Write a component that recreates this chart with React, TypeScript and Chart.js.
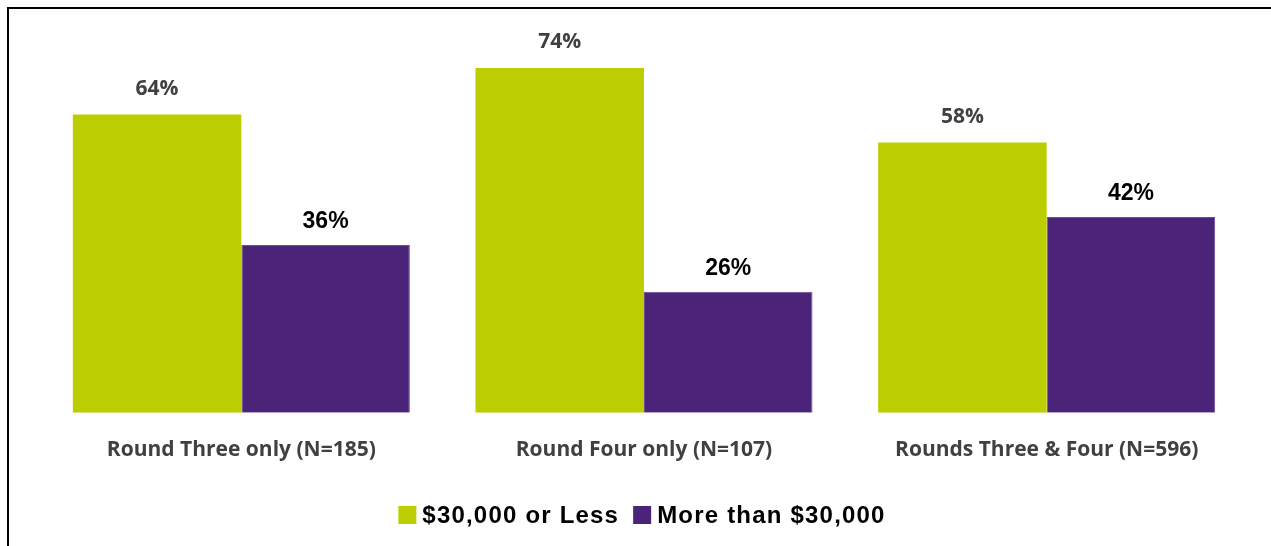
import React, { useEffect, useRef } from "react";
import { Chart, registerables } from "chart.js";

Chart.register(...registerables);

const categories = ["Round Three only (N=185)", "Round Four only (N=107)", "Rounds Three & Four (N=596)"];
const seriesNames = ["$30,000 or Less", "More than $30,000"];
const lowIncome = [64, 74, 58];
const highIncome = [36, 26, 42];
const colors = ["#BCCD02", "#4B2378"];

const valueLabelPlugin = {
  id: "valueLabels",
  afterDatasetsDraw(chart: any) {
    const ctx = chart.ctx;
    ctx.save();
    ctx.textAlign = "center";
    ctx.textBaseline = "alphabetic";
    chart.data.datasets.forEach((ds: any, di: number) => {
      const meta = chart.getDatasetMeta(di);
      let offset = 18;
      if (di === 0) {
        ctx.font = "bold 21px 'Open Sans'";
        ctx.fillStyle = "#404040";
        offset = 20;
      } else {
        ctx.font = "bold 23px 'Liberation Sans'";
        ctx.fillStyle = "#000000";
        offset = 17;
      }
      meta.data.forEach((bar: any, i: number) => {
        ctx.fillText(ds.data[i] + "%", bar.x, bar.y - offset);
      });
    });
    ctx.restore();
  },
};

const legendPlugin = {
  id: "customLegend",
  afterDraw(chart: any) {
    const ctx = chart.ctx;
    ctx.save();
    ctx.font = "bold 24px 'Liberation Sans'";
    (ctx as any).letterSpacing = "1.2px";
    ctx.textBaseline = "middle";
    ctx.textAlign = "left";
    const box = 18;
    const gapBoxText = 6;
    const gapItems = 14;
    const widths = seriesNames.map((n) => ctx.measureText(n).width);
    const total = widths.reduce((a, w) => a + box + gapBoxText + w, 0) + gapItems;
    let x = chart.width / 2 - total / 2 + 2;
    const y = chart.height - 31;
    seriesNames.forEach((n, i) => {
      ctx.fillStyle = colors[i];
      ctx.fillRect(x, y - box / 2, box, box);
      x += box + gapBoxText;
      ctx.fillStyle = "#000000";
      ctx.fillText(n, x, y + 1);
      x += widths[i] + gapItems;
    });
    ctx.restore();
  },
};

export default function App() {
  const canvasRef = useRef<HTMLCanvasElement>(null);
  useEffect(() => {
    if (!canvasRef.current) return;
    const chart = new Chart(canvasRef.current, {
      type: "bar",
      data: {
        labels: categories,
        datasets: [
          { label: seriesNames[0], data: lowIncome, backgroundColor: colors[0], borderWidth: 0 },
          { label: seriesNames[1], data: highIncome, backgroundColor: colors[1], borderColor: "#6B4E96", borderWidth: 1 },
        ],
      },
      options: {
        animation: false,
        responsive: false,
        maintainAspectRatio: false,
        datasets: { bar: { categoryPercentage: 0.837, barPercentage: 1 } },
        layout: { padding: { top: 31, left: 31, right: 23, bottom: 59 } },
        plugins: { legend: { display: false }, tooltip: { enabled: false }, title: { display: false } },
        scales: {
          x: {
            grid: { display: false, drawTicks: false },
            border: { display: false },
            ticks: {
              padding: 25,
              color: "#404040",
              font: { family: "'Open Sans'", size: 21, weight: "bold", lineHeight: 1.15 },
            },
          },
          y: {
            display: false,
            min: 0,
            max: 80,
          },
        },
      } as any,
      plugins: [valueLabelPlugin, legendPlugin],
    });
    return () => chart.destroy();
  }, []);
  return (
    <div
      style={{
        position: "fixed",
        left: 7,
        top: 7,
        right: 0,
        bottom: 0,
        borderTop: "2px solid #000",
        borderLeft: "2px solid #000",
        background: "#fff",
      }}
    >
      <canvas ref={canvasRef} width={1262} height={537} style={{ display: "block" }} />
    </div>
  );
}
